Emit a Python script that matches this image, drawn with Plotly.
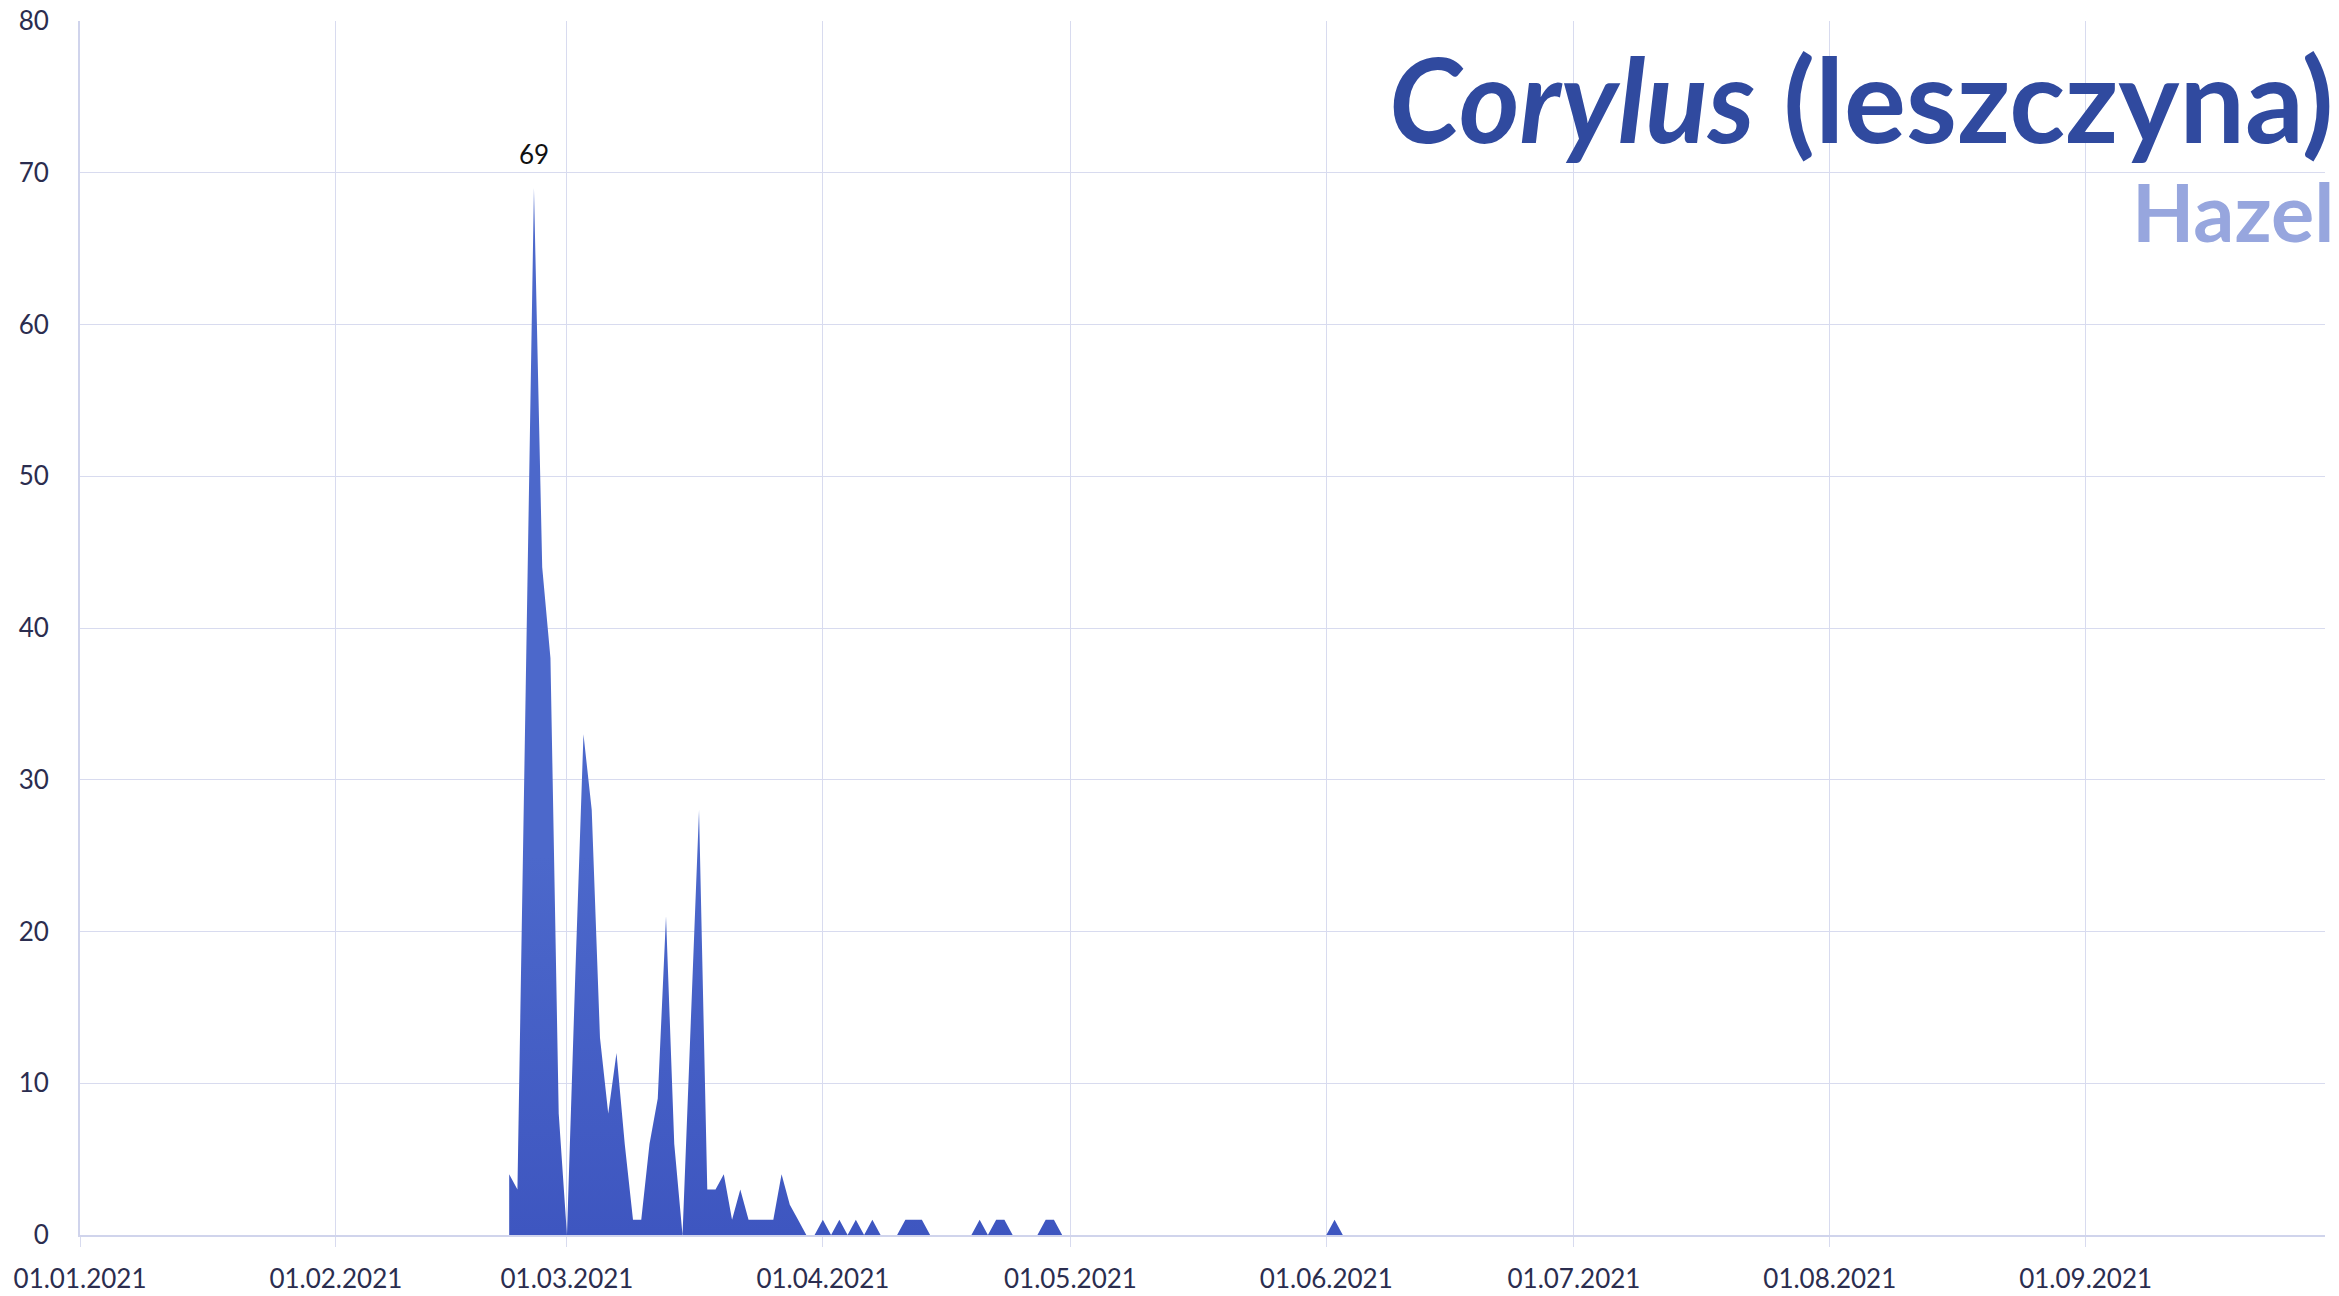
import pandas as pd
import plotly.graph_objects as go

# ---- data ----
season_start = "2021-02-22"
season_end = "2021-06-03"
pollen = [
    4, 3, 36, 69, 44, 38, 8,            # Feb 22 - Feb 28
    0, 17, 33, 28, 13, 8, 12, 6, 1, 1,  # Mar 1 - Mar 10
    6, 9, 21, 6, 0, 14, 28, 3, 3, 4,    # Mar 11 - Mar 20
    1, 3, 1, 1, 1, 1, 4, 2, 1, 0, 0,    # Mar 21 - Mar 31
    1, 0, 1, 0, 1, 0, 1, 0, 0, 0,       # Apr 1 - Apr 10
    1, 1, 1, 0, 0, 0, 0, 0, 0, 1,       # Apr 11 - Apr 20
    0, 1, 1, 0, 0, 0, 0, 1, 1, 0,       # Apr 21 - Apr 30
    0, 0, 0, 0, 0, 0, 0, 0, 0, 0,       # May 1 - May 10
    0, 0, 0, 0, 0, 0, 0, 0, 0, 0,       # May 11 - May 20
    0, 0, 0, 0, 0, 0, 0, 0, 0, 0, 0,    # May 21 - May 31
    0, 1, 0,                            # Jun 1 - Jun 3
]
dates = pd.date_range(season_start, season_end, freq="D")

x_tick_dates = ["2021-01-01", "2021-02-01", "2021-03-01", "2021-04-01", "2021-05-01",
                "2021-06-01", "2021-07-01", "2021-08-01", "2021-09-01"]
x_tick_labels = ["01.01.2021", "01.02.2021", "01.03.2021", "01.04.2021", "01.05.2021",
                 "01.06.2021", "01.07.2021", "01.08.2021", "01.09.2021"]
x_range = ["2021-01-01", "2021-09-30"]
y_range = [0, 80]

peak_value = max(pollen)
peak_date = dates[pollen.index(peak_value)]

title_latin = "Corylus"
title_polish = "(leszczyna)"
title_english = "Hazel"

GRID = "#d8dbef"
TICK_TXT = "#2b2d4f"

fig = go.Figure()
fig.add_trace(go.Scatter(
    x=dates, y=pollen, mode="lines", fill="tozeroy",
    line=dict(width=0, color="#4a65c8"),
    fillgradient=dict(type="vertical",
                      colorscale=[[0, "#3e56c0"], [1, "#4c68cb"]],
                      start=0, stop=25),
    hoverinfo="x+y", showlegend=False,
))

fig.add_annotation(x=peak_date, y=peak_value, text=str(peak_value), showarrow=False,
                   yanchor="middle", yshift=34, font=dict(family="Lato", size=26, color="#111111"))

fig.add_annotation(xref="paper", yref="paper", x=1, xshift=11, y=1, yshift=-77,
                   xanchor="right", yanchor="middle", showarrow=False,
                   text=f"<i>{title_latin}</i> {title_polish}",
                   font=dict(family="Lato", size=116, color="#304a9f", weight="bold"))
fig.add_annotation(xref="paper", yref="paper", x=1, xshift=11, y=1, yshift=-189,
                   xanchor="right", yanchor="middle", showarrow=False,
                   text=title_english,
                   font=dict(family="Lato", size=81, color="#97a6de", weight="bold"))

fig.update_layout(
    width=2339, height=1296,
    margin=dict(l=80, r=14, t=21, b=61, autoexpand=False),
    paper_bgcolor="white", plot_bgcolor="white",
    font=dict(family="Lato", color=TICK_TXT),
    xaxis=dict(type="date", range=x_range, tickvals=x_tick_dates, ticktext=x_tick_labels,
               showgrid=True, gridcolor=GRID, gridwidth=1,
               ticks="outside", ticklen=10, tickcolor=GRID, tickwidth=1,
               showline=True, linecolor="#d0d4ec", linewidth=2,
               tickfont=dict(family="Lato", size=26, color=TICK_TXT),
               ticklabelstandoff=10, zeroline=False, fixedrange=True, automargin=False),
    yaxis=dict(range=y_range, dtick=10, tick0=0,
               showgrid=True, gridcolor=GRID, gridwidth=1,
               showline=True, linecolor="#d0d4ec", linewidth=2,
               ticks="", tickfont=dict(family="Lato", size=26, color=TICK_TXT),
               ticklabelstandoff=24, zeroline=False, fixedrange=True, automargin=False),
)

fig.write_html("out.html", config={"displayModeBar": False},
               post_script="document.body.style.margin='0';")
